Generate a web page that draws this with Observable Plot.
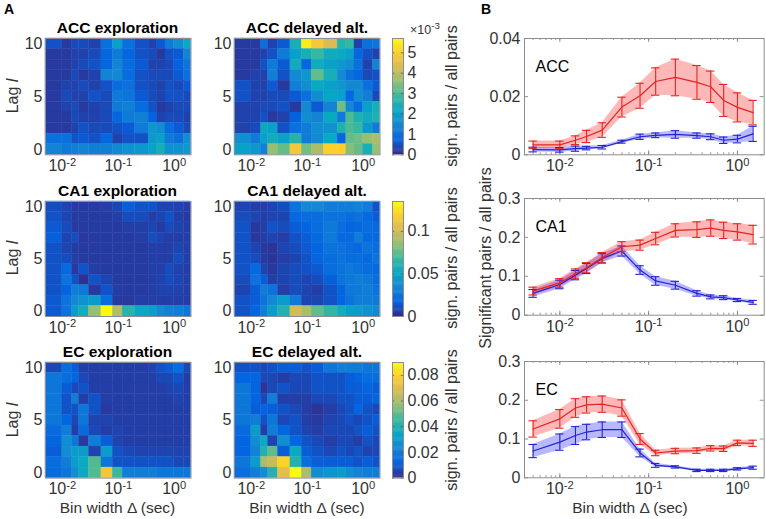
<!DOCTYPE html>
<html><head><meta charset="utf-8">
<script src="https://cdn.jsdelivr.net/npm/d3@7"></script>
<script src="https://cdn.jsdelivr.net/npm/@observablehq/plot@0.6"></script>
<style>
body{margin:0;background:#fff;}
#fig{position:relative;width:766px;height:519px;background:#fff;overflow:hidden;font-family:Arial,"Liberation Sans",Helvetica,sans-serif;color:#262626;}
.abs{position:absolute;white-space:nowrap;line-height:1;}
.t{font-weight:bold;font-size:15.5px;color:#000;transform:translate(-50%,-50%);}
.lab{font-size:15.5px;color:#333;transform:translate(-50%,-50%);}
.rot{font-size:16px;color:#333;transform:translate(-50%,-50%) rotate(-90deg);}
.sm{font-size:12.5px;color:#333;transform:translate(-50%,-50%);}
.pl{font-weight:bold;font-size:14px;color:#000;transform:translate(-50%,-50%);}
</style></head><body><div id="fig"></div><script>
// ---------- data ----------
const binEdges = [0.005,0.01,0.015,0.02,0.03,0.05,0.08,0.12,0.2,0.35,0.5,0.7,1,1.5,2];
const binWidths = [0.005,0.01,0.015,0.02,0.03,0.05,0.08,0.12,0.2,0.35,0.5,0.7,1,1.5];
const lags = [10,9,8,7,6,5,4,3,2,1,0];
const lagTicks = [0,5,10];
const xTicks = [0.01,0.1,1];

// heatmaps: rows from lag 10 (top) to lag 0 (bottom); ACC values in units of 1e-3
const accExploration = [
[0.5,0.2,0.4,0.4,0.3,1.0,2.0,1.0,0.5,0.3,0.6,1.2,1.6,2.2],
[0.2,0.2,0.3,0.3,0.4,0.8,1.2,0.8,0.5,0.4,0.2,0.5,0.6,1.4],
[0.2,0.2,0.3,0.4,0.5,0.8,1.4,0.9,0.6,0.3,0.3,0.4,0.7,1.1],
[0.2,0.2,0.4,0.2,0.3,1.4,1.5,0.9,0.5,0.4,0.4,0.4,0.6,1.0],
[0.2,0.3,0.3,0.4,0.3,0.5,0.9,1.0,0.5,0.4,0.3,0.5,0.4,0.6],
[0.2,0.4,0.3,0.3,0.5,0.4,1.2,1.1,0.6,0.4,0.3,0.5,0.5,0.4],
[0.2,0.3,0.4,0.2,0.3,0.4,1.2,1.3,0.9,0.5,0.2,0.3,0.4,0.4],
[0.2,0.2,0.4,0.3,0.3,0.4,0.8,1.2,1.3,0.7,0.3,0.4,0.4,0.3],
[0.2,0.2,0.3,0.5,0.4,0.4,0.5,0.6,1.2,1.8,1.6,0.9,0.6,0.4],
[1.0,1.0,0.5,0.6,0.5,0.8,0.3,0.5,0.5,1.8,2.0,1.2,1.0,1.6],
[1.4,1.2,1.3,1.4,1.3,1.3,1.5,1.7,1.8,2.0,2.4,1.7,1.7,1.8]];
const accDelayed = [
[0.2,0.2,1.0,0.3,0.6,2.4,5.5,4.8,4.3,2.6,2.8,0.3,1.0,1.1],
[0.2,0.2,0.3,0.5,1.2,2.0,2.4,2.8,2.3,2.2,2.0,0.8,0.5,0.3],
[0.2,0.2,0.5,1.2,0.6,2.3,0.8,2.3,2.0,1.8,1.6,1.0,0.3,1.4],
[0.2,0.3,0.3,1.3,0.5,1.5,1.8,3.2,2.4,1.5,1.0,0.8,0.4,0.5],
[0.5,0.3,0.3,0.6,0.2,1.3,1.6,2.2,2.0,1.8,1.5,1.5,1.0,0.6],
[0.5,0.3,0.3,0.4,0.4,0.6,1.0,1.6,2.1,2.0,0.8,1.6,1.3,0.4],
[0.3,0.3,0.4,0.4,0.5,0.2,1.5,0.6,1.4,3.3,1.5,0.9,2.0,2.4],
[0.3,0.3,0.5,0.2,0.3,0.7,1.6,1.4,2.2,1.2,3.0,2.5,2.3,2.5],
[0.3,0.4,2.2,2.0,0.5,1.0,1.2,1.6,1.7,2.5,3.0,2.8,1.8,1.2],
[1.6,1.2,2.0,2.3,2.0,2.6,1.2,1.5,2.2,0.8,3.2,3.3,3.6,3.8],
[2.0,1.8,1.3,3.6,3.2,4.8,3.3,3.8,5.0,5.0,3.5,3.2,2.4,3.6]];
const ca1Exploration = [
[0.010,0.008,0.005,0.005,0.005,0.006,0.008,0.015,0.012,0.012,0.008,0.008,0.008,0.006],
[0.012,0.008,0.005,0.005,0.005,0.005,0.006,0.010,0.010,0.006,0.008,0.012,0.006,0.005],
[0.014,0.010,0.005,0.005,0.005,0.005,0.005,0.006,0.006,0.008,0.005,0.010,0.007,0.006],
[0.016,0.008,0.010,0.004,0.005,0.005,0.005,0.005,0.006,0.010,0.008,0.006,0.006,0.006],
[0.012,0.008,0.005,0.005,0.005,0.005,0.005,0.005,0.005,0.006,0.006,0.006,0.008,0.006],
[0.012,0.010,0.006,0.005,0.005,0.005,0.005,0.005,0.005,0.006,0.006,0.006,0.010,0.006],
[0.012,0.020,0.004,0.012,0.006,0.005,0.005,0.005,0.005,0.006,0.006,0.010,0.007,0.006],
[0.012,0.025,0.012,0.002,0.012,0.008,0.005,0.005,0.005,0.006,0.007,0.010,0.008,0.006],
[0.012,0.018,0.030,0.028,0.004,0.012,0.006,0.005,0.005,0.006,0.007,0.008,0.007,0.006],
[0.014,0.025,0.035,0.040,0.045,0.022,0.005,0.004,0.006,0.006,0.006,0.006,0.006,0.006],
[0.014,0.025,0.045,0.055,0.085,0.135,0.092,0.062,0.052,0.046,0.036,0.032,0.030,0.026]];
const ca1Delayed = [
[0.008,0.006,0.006,0.008,0.010,0.025,0.035,0.035,0.030,0.030,0.030,0.033,0.030,0.012],
[0.010,0.008,0.006,0.008,0.008,0.020,0.022,0.022,0.025,0.025,0.022,0.025,0.020,0.015],
[0.012,0.004,0.006,0.012,0.010,0.015,0.018,0.022,0.028,0.022,0.018,0.020,0.022,0.020],
[0.012,0.004,0.006,0.008,0.006,0.012,0.015,0.020,0.028,0.020,0.020,0.030,0.020,0.020],
[0.012,0.008,0.004,0.003,0.008,0.010,0.014,0.018,0.025,0.025,0.022,0.020,0.025,0.022],
[0.012,0.010,0.005,0.003,0.006,0.008,0.012,0.018,0.022,0.025,0.022,0.022,0.020,0.025],
[0.012,0.020,0.008,0.004,0.008,0.010,0.012,0.014,0.022,0.025,0.028,0.025,0.022,0.020],
[0.010,0.025,0.015,0.006,0.008,0.010,0.008,0.010,0.016,0.025,0.028,0.030,0.028,0.022],
[0.008,0.015,0.030,0.025,0.006,0.010,0.008,0.006,0.012,0.018,0.028,0.028,0.030,0.025],
[0.012,0.015,0.025,0.035,0.045,0.028,0.008,0.008,0.012,0.018,0.025,0.030,0.030,0.028],
[0.012,0.018,0.030,0.045,0.060,0.100,0.090,0.075,0.065,0.055,0.048,0.045,0.040,0.035]];
const ecExploration = [
[0.006,0.015,0.010,0.004,0.004,0.004,0.004,0.004,0.004,0.005,0.008,0.010,0.015,0.006],
[0.018,0.015,0.012,0.006,0.004,0.004,0.004,0.004,0.004,0.004,0.006,0.006,0.008,0.004],
[0.018,0.010,0.006,0.008,0.004,0.004,0.004,0.004,0.004,0.004,0.004,0.005,0.006,0.004],
[0.018,0.008,0.020,0.004,0.008,0.004,0.004,0.004,0.004,0.004,0.004,0.004,0.005,0.004],
[0.018,0.008,0.008,0.018,0.008,0.003,0.004,0.004,0.004,0.004,0.004,0.004,0.004,0.004],
[0.018,0.012,0.006,0.018,0.005,0.005,0.004,0.004,0.004,0.004,0.004,0.004,0.004,0.004],
[0.014,0.020,0.004,0.014,0.006,0.004,0.005,0.004,0.004,0.004,0.004,0.004,0.004,0.004],
[0.012,0.025,0.018,0.003,0.020,0.010,0.005,0.004,0.004,0.004,0.004,0.004,0.004,0.004],
[0.010,0.025,0.030,0.030,0.005,0.030,0.008,0.006,0.005,0.005,0.005,0.005,0.005,0.005],
[0.015,0.020,0.030,0.035,0.048,0.018,0.008,0.008,0.008,0.008,0.008,0.008,0.006,0.006],
[0.014,0.018,0.025,0.035,0.048,0.075,0.045,0.020,0.020,0.020,0.018,0.018,0.018,0.018]];
const ecDelayed = [
[0.008,0.008,0.006,0.008,0.010,0.010,0.008,0.010,0.018,0.020,0.020,0.020,0.018,0.018],
[0.012,0.012,0.006,0.006,0.004,0.006,0.006,0.008,0.008,0.008,0.010,0.012,0.015,0.015],
[0.018,0.012,0.002,0.006,0.008,0.006,0.006,0.008,0.008,0.008,0.010,0.010,0.012,0.010],
[0.018,0.012,0.006,0.020,0.004,0.004,0.004,0.006,0.006,0.008,0.008,0.010,0.010,0.012],
[0.018,0.010,0.012,0.010,0.008,0.006,0.004,0.002,0.004,0.006,0.008,0.012,0.008,0.006],
[0.018,0.020,0.008,0.018,0.006,0.008,0.004,0.003,0.005,0.006,0.008,0.006,0.008,0.010],
[0.014,0.030,0.004,0.020,0.012,0.008,0.005,0.004,0.006,0.006,0.006,0.008,0.010,0.008],
[0.012,0.025,0.035,0.005,0.025,0.012,0.008,0.006,0.004,0.006,0.006,0.004,0.008,0.006],
[0.012,0.022,0.040,0.050,0.010,0.035,0.010,0.008,0.006,0.008,0.006,0.008,0.005,0.006],
[0.018,0.030,0.060,0.065,0.080,0.040,0.015,0.010,0.010,0.010,0.010,0.008,0.010,0.008],
[0.015,0.020,0.025,0.040,0.070,0.090,0.060,0.025,0.028,0.030,0.025,0.022,0.020,0.020]];

// colorbar limits and ticks
const accColorMax = 5.7, accColorTicks = [0,1,2,3,4,5];
const ca1ColorMax = 0.135, ca1ColorTicks = [0,0.05,0.1];
const ecColorMax = 0.09, ecColorTicks = [0,0.02,0.04,0.06,0.08];

// panel B: mean and error (half-width) per bin width; red = delayed alt., blue = exploration
const accDelayedMean = [0.0034,0.0034,0.0050,0.0063,0.0085,0.0164,0.0203,0.0252,0.0266,0.0249,0.0234,0.0187,0.0163,0.0145];
const accDelayedErr  = [0.0013,0.0013,0.0015,0.0021,0.0025,0.0034,0.0043,0.0047,0.0063,0.0058,0.0054,0.0055,0.0050,0.0042];
const accExplMean    = [0.0018,0.0017,0.0021,0.0023,0.0026,0.0045,0.0062,0.0067,0.0070,0.0066,0.0062,0.0050,0.0054,0.0072];
const accExplErr     = [0.0008,0.0008,0.0009,0.0006,0.0006,0.0005,0.0009,0.0008,0.0013,0.0009,0.0010,0.0011,0.0013,0.0026];
const ca1DelayedMean = [0.062,0.083,0.107,0.122,0.148,0.176,0.180,0.197,0.218,0.220,0.224,0.218,0.214,0.207];
const ca1DelayedErr  = [0.010,0.011,0.012,0.013,0.013,0.013,0.013,0.016,0.017,0.020,0.021,0.021,0.021,0.024];
const ca1ExplMean    = [0.056,0.079,0.103,0.120,0.146,0.165,0.116,0.088,0.077,0.056,0.047,0.045,0.039,0.033];
const ca1ExplErr     = [0.010,0.011,0.012,0.013,0.012,0.013,0.011,0.011,0.010,0.007,0.005,0.005,0.004,0.005];
const ecDelayedMean  = [0.126,0.152,0.180,0.188,0.190,0.180,0.100,0.064,0.069,0.070,0.076,0.075,0.090,0.089];
const ecDelayedErr   = [0.021,0.024,0.024,0.021,0.021,0.021,0.014,0.007,0.007,0.007,0.007,0.007,0.007,0.008];
const ecExplMean     = [0.069,0.092,0.109,0.118,0.124,0.124,0.064,0.032,0.028,0.019,0.019,0.019,0.023,0.026];
const ecExplErr      = [0.017,0.021,0.023,0.020,0.020,0.020,0.010,0.005,0.003,0.003,0.003,0.003,0.003,0.004];

// ---------- drawing ----------
const FONT = 'Arial, "Liberation Sans", Helvetica, sans-serif';
const TICK_FS = "16px";
const parulaStops = ["#352a87","#0363e1","#1485d4","#06a7c6","#38b99e","#92bf73","#d9ba56","#fcce2e","#f9fb0e"];
const parula = d3.piecewise(d3.interpolateRgb, parulaStops);
const fig = document.getElementById("fig");
const fmtPow = d => "10^" + Math.round(Math.log10(d));
const fmtNum = d => String(d);
const baseStyle = {fontFamily: FONT, fontSize: TICK_FS, color: "#333", background: "none", overflow: "visible"};

function fixText(svg) {
  const s = d3.select(svg);
  s.attr("font-size", TICK_FS).attr("font-family", FONT);
  s.selectAll('g[aria-label$="tick label"]').attr("font-size", TICK_FS);
  s.selectAll('g[aria-label$="tick label"] text').style("font-size", TICK_FS);
  s.selectAll("text").each(function() {
    const t = this.textContent;
    if (t.includes("^")) {
      const [b, e] = t.split("^");
      const sel = d3.select(this);
      sel.text(b);
      sel.append("tspan").attr("dy", "-0.5em").style("font-size", "0.7em").text(e);
    }
  });
}
function place(node, left, top) {
  node.style.position = "absolute";
  node.style.left = left + "px";
  node.style.top = top + "px";
  node.style.maxWidth = "none";
  fig.appendChild(node);
}
function label(html, x, y, cls) {
  const d = document.createElement("div");
  d.className = "abs " + cls;
  d.style.left = x + "px"; d.style.top = y + "px";
  d.innerHTML = html;
  fig.appendChild(d);
}

function heatmap(rows, vmax, left, top, w, h) {
  const data = [];
  rows.forEach((row, r) => row.forEach((v, c) => data.push({x1: binEdges[c], x2: binEdges[c + 1], lag: lags[r], v})));
  const mL = 32, mR = 4, mT = 4, mB = 28;
  const svg = Plot.plot({
    width: w + mL + mR, height: h + mT + mB,
    marginLeft: mL, marginRight: mR, marginTop: mT, marginBottom: mB,
    style: baseStyle,
    x: {type: "log", domain: [binEdges[0], binEdges[binEdges.length - 1]], ticks: xTicks, tickFormat: fmtPow, tickSize: 0, tickPadding: 5, label: null},
    y: {domain: [-0.5, 10.5], ticks: lagTicks, tickFormat: fmtNum, tickSize: 0, tickPadding: 3, label: null},
    color: {type: "linear", domain: [0, vmax], interpolate: parula, clamp: true},
    marks: [
      Plot.rect(data, {x1: "x1", x2: "x2", y1: d => d.lag - 0.5, y2: d => d.lag + 0.5, fill: "v", stroke: "v", strokeWidth: 0.4}),
      Plot.frame({stroke: "#8d8d9a"})
    ]
  });
  fixText(svg);
  place(svg, left - mL, top - mT);
}

function colorbar(vmax, ticks, left, top, w, h) {
  const n = 128;
  const steps = d3.range(n).map(i => ({y1: vmax * i / n, y2: vmax * (i + 1) / n}));
  const mL = 2, mR = 45, mT = 4, mB = 4;
  const svg = Plot.plot({
    width: w + mL + mR, height: h + mT + mB,
    marginLeft: mL, marginRight: mR, marginTop: mT, marginBottom: mB,
    style: baseStyle,
    x: {domain: [0, 1], axis: null},
    y: {domain: [0, vmax], ticks, tickFormat: fmtNum, axis: "right", tickSize: 0, tickPadding: 4, label: null},
    color: {type: "linear", domain: [0, vmax], interpolate: parula, clamp: true},
    marks: [
      Plot.rect(steps, {x1: () => 0, x2: () => 1, y1: "y1", y2: d => Math.min(vmax, d.y2 + vmax / n * 0.5), fill: d => (d.y1 + d.y2) / 2}),
      Plot.ruleY(ticks, {y: d => d, x1: () => 0, x2: () => 0.2, stroke: "#555", strokeWidth: 0.8}),
      Plot.ruleY(ticks, {y: d => d, x1: () => 0.8, x2: () => 1, stroke: "#555", strokeWidth: 0.8}),
      Plot.frame({stroke: "#8d8d8d"})
    ]
  });
  fixText(svg);
  place(svg, left - mL, top - mT);
}

const RED = "#e52421", BLUE = "#2323d4";
const minorTicks = [];
[-3, -2, -1, 0].forEach(e => d3.range(1, 10).forEach(k => { const v = k * Math.pow(10, e); if (v > 0.004 && v < 2) minorTicks.push(v); }));

function lineChart(name, ymax, yTicks, dMean, dErr, eMean, eErr, left, top, w, h) {
  const red = binWidths.map((x, i) => ({x, m: dMean[i], e: dErr[i]}));
  const blue = binWidths.map((x, i) => ({x, m: eMean[i], e: eErr[i]}));
  const xd = [0.004, 2];
  const mL = 45, mR = 4, mT = 4, mB = 28;
  const pxPerDec = w / Math.log10(xd[1] / xd[0]);
  const cap = Math.pow(10, 4.2 / pxPerDec);
  const tl = ymax / h; // data units per pixel
  const xk = Math.pow(10, 1 / pxPerDec);
  function series(data, color) {
    return [
      Plot.line(data, {x: "x", y: "m", stroke: color, strokeWidth: 1.2}),
      Plot.ruleX(data, {x: "x", y1: d => d.m - d.e, y2: d => d.m + d.e, stroke: color, strokeWidth: 1.1}),
      Plot.ruleY(data, {y: d => d.m + d.e, x1: d => d.x / cap, x2: d => d.x * cap, stroke: color, strokeWidth: 1.1}),
      Plot.ruleY(data, {y: d => d.m - d.e, x1: d => d.x / cap, x2: d => d.x * cap, stroke: color, strokeWidth: 1.1})
    ];
  }
  const svg = Plot.plot({
    width: w + mL + mR, height: h + mT + mB,
    marginLeft: mL, marginRight: mR, marginTop: mT, marginBottom: mB,
    style: baseStyle,
    x: {type: "log", domain: xd, ticks: xTicks, tickFormat: fmtPow, tickSize: 0, tickPadding: 5, label: null},
    y: {domain: [0, ymax], ticks: yTicks, tickFormat: fmtNum, tickSize: 0, tickPadding: 4, label: null},
    marks: [
      Plot.ruleX(minorTicks, {x: d => d, y1: () => 0, y2: () => 2 * tl, stroke: "#777", strokeWidth: 0.8}),
      Plot.ruleX(minorTicks, {x: d => d, y1: () => ymax, y2: () => ymax - 2 * tl, stroke: "#777", strokeWidth: 0.8}),
      Plot.ruleX(xTicks, {x: d => d, y1: () => 0, y2: () => 4 * tl, stroke: "#777", strokeWidth: 0.8}),
      Plot.ruleX(xTicks, {x: d => d, y1: () => ymax, y2: () => ymax - 4 * tl, stroke: "#777", strokeWidth: 0.8}),
      Plot.ruleY(yTicks, {y: d => d, x1: () => xd[0], x2: () => xd[0] * Math.pow(xk, 4), stroke: "#777", strokeWidth: 0.8}),
      Plot.ruleY(yTicks, {y: d => d, x1: () => xd[1] / Math.pow(xk, 4), x2: () => xd[1], stroke: "#777", strokeWidth: 0.8}),
      Plot.areaY(blue, {x: "x", y1: d => d.m - d.e, y2: d => d.m + d.e, fill: "#0000ff", fillOpacity: 0.28}),
      Plot.areaY(red, {x: "x", y1: d => d.m - d.e, y2: d => d.m + d.e, fill: "#ff0000", fillOpacity: 0.28}),
      ...series(blue, BLUE),
      ...series(red, RED),
      Plot.text([name], {frameAnchor: "top-left", dx: 11, dy: 22, text: d => d, fontSize: 16, fill: "#000", textAnchor: "start"}),
      Plot.frame({stroke: "#8d8d8d"})
    ]
  });
  fixText(svg);
  place(svg, left - mL, top - mT);
}

// layout
const rowsA = [
  {top: 37.7, h: 116.3, expl: accExploration, del: accDelayed, max: accColorMax, ticks: accColorTicks, name: "ACC"},
  {top: 200.7, h: 115, expl: ca1Exploration, del: ca1Delayed, max: ca1ColorMax, ticks: ca1ColorTicks, name: "CA1"},
  {top: 361.7, h: 115.6, expl: ecExploration, del: ecDelayed, max: ecColorMax, ticks: ecColorTicks, name: "EC"}
];
rowsA.forEach(r => {
  heatmap(r.expl, r.max, 44.5, r.top, 145.5, r.h);
  heatmap(r.del, r.max, 234, r.top, 145.5, r.h);
  colorbar(r.max, r.ticks, 392, r.top, 11, r.h);
  const cy = r.top + r.h / 2;
  label(r.name + " exploration", 117.5, r.top - 10, "t");
  label(r.name + " delayed alt.", 307, r.top - 10, "t");
  label("Lag <i>l</i>", 13, cy, "rot");
  label("sign. pairs / all pairs", 452, cy, "rot");
});
label("×10<sup style='font-size:0.78em;vertical-align:0.5em'>-3</sup>", 425, 29, "sm");

lineChart("ACC", 0.04, [0, 0.02, 0.04], accDelayedMean, accDelayedErr, accExplMean, accExplErr, 524.3, 37.7, 239.7, 116.3);
lineChart("CA1", 0.3, [0, 0.1, 0.2, 0.3], ca1DelayedMean, ca1DelayedErr, ca1ExplMean, ca1ExplErr, 524.3, 198.3, 239.7, 116.7);
lineChart("EC", 0.3, [0, 0.1, 0.2, 0.3], ecDelayedMean, ecDelayedErr, ecExplMean, ecExplErr, 524.3, 361, 239.7, 116.3);

label("Bin width Δ (sec)", 117.5, 508, "lab");
label("Bin width Δ (sec)", 307, 508, "lab");
label("Bin width Δ (sec)", 630, 508, "lab");
label("Significant pairs / all pairs", 486, 258, "rot");
label("A", 9, 9, "pl");
label("B", 486, 9, "pl");
</script></body></html>
